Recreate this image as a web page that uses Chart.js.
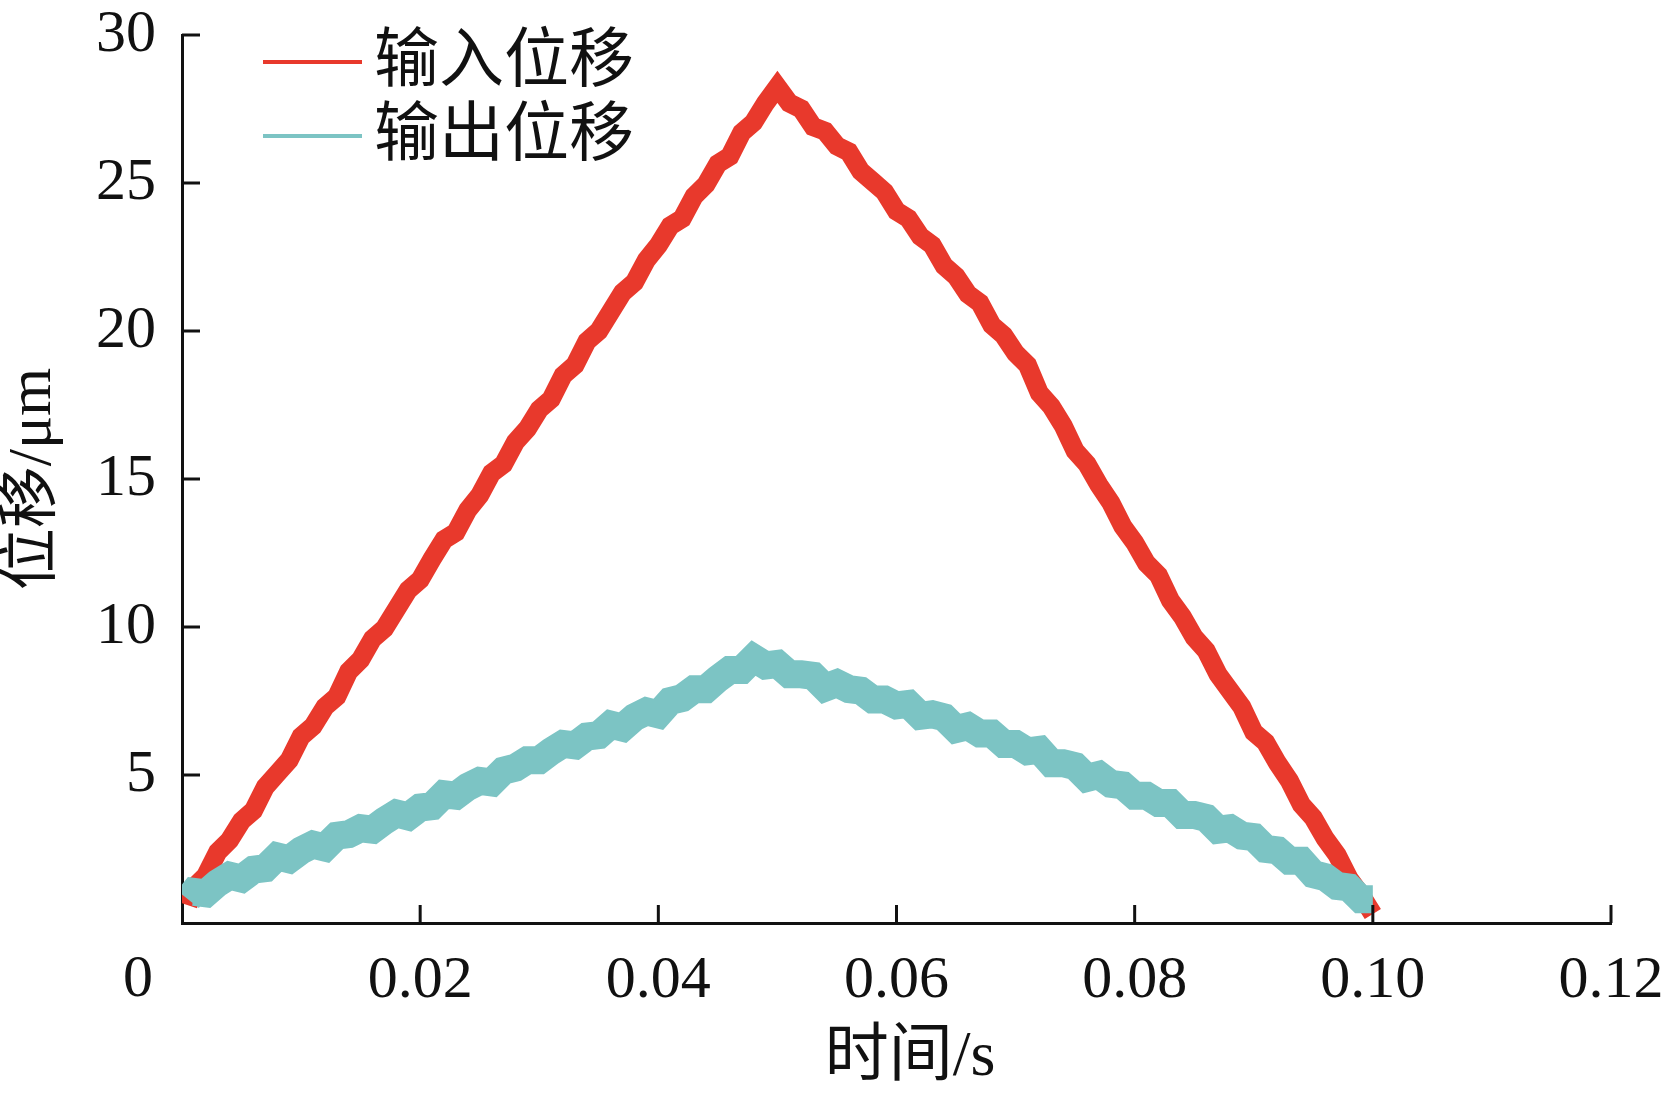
<!DOCTYPE html>
<html>
<head>
<meta charset="utf-8">
<script src="https://cdn.jsdelivr.net/npm/chart.js@4.4.1/dist/chart.umd.min.js"></script>
<style>
  html, body { margin: 0; padding: 0; background: #fff; }
  #wrap { width: 1669px; height: 1104px; }
</style>
</head>
<body>
<div id="wrap"><canvas id="myChart" width="1669" height="1104"></canvas></div>
<script>
// time samples (s)
var times = [0.0005, 0.001, 0.002, 0.003, 0.004, 0.005, 0.006, 0.007, 0.008, 0.009,
  0.010, 0.011, 0.012, 0.013, 0.014, 0.015, 0.016, 0.017, 0.018, 0.019,
  0.020, 0.021, 0.022, 0.023, 0.024, 0.025, 0.026, 0.027, 0.028, 0.029,
  0.030, 0.031, 0.032, 0.033, 0.034, 0.035, 0.036, 0.037, 0.038, 0.039,
  0.040, 0.041, 0.042, 0.043, 0.044, 0.045, 0.046, 0.047, 0.048, 0.049,
  0.050, 0.051, 0.052, 0.053, 0.054, 0.055, 0.056, 0.057, 0.058, 0.059,
  0.060, 0.061, 0.062, 0.063, 0.064, 0.065, 0.066, 0.067, 0.068, 0.069,
  0.070, 0.071, 0.072, 0.073, 0.074, 0.075, 0.076, 0.077, 0.078, 0.079,
  0.080, 0.081, 0.082, 0.083, 0.084, 0.085, 0.086, 0.087, 0.088, 0.089,
  0.090, 0.091, 0.092, 0.093, 0.094, 0.095, 0.096, 0.097, 0.098, 0.099, 0.100];

// 输入位移 (um)
var inputDisp = [0.6, 1.2, 1.6, 2.4, 2.8, 3.45, 3.8, 4.6, 5.05, 5.5,
  6.3, 6.65, 7.3, 7.65, 8.5, 8.9, 9.6, 9.95, 10.6, 11.25,
  11.6, 12.3, 12.95, 13.2, 13.95, 14.45, 15.2, 15.5, 16.25, 16.7,
  17.35, 17.7, 18.5, 18.85, 19.65, 20.0, 20.65, 21.3, 21.65, 22.4,
  22.9, 23.55, 23.8, 24.55, 24.95, 25.65, 25.9, 26.7, 27.05, 27.7,
  28.25, 27.7, 27.5, 26.9, 26.75, 26.25, 26.05, 25.4, 25.05, 24.7,
  24.05, 23.8, 23.2, 22.9, 22.2, 21.85, 21.25, 20.95, 20.2, 19.85,
  19.25, 18.85, 17.9, 17.45, 16.8, 15.95, 15.5, 14.8, 14.2, 13.4,
  12.85, 12.15, 11.75, 10.9, 10.35, 9.65, 9.2, 8.4, 7.85, 7.3,
  6.45, 6.1, 5.4, 4.8, 4.0, 3.55, 2.85, 2.3, 1.5, 0.95, 0.3];

// 输出位移 (um)
var outputDisp = [0.8, 1.05, 1.0, 1.35, 1.6, 1.5, 1.8, 1.85, 2.25, 2.15,
  2.45, 2.65, 2.55, 2.95, 3.0, 3.2, 3.15, 3.45, 3.7, 3.6,
  3.9, 3.95, 4.35, 4.3, 4.6, 4.8, 4.75, 5.15, 5.25, 5.5,
  5.5, 5.8, 6.05, 6.0, 6.3, 6.35, 6.7, 6.6, 6.95, 7.15,
  7.05, 7.5, 7.6, 7.9, 7.9, 8.25, 8.55, 8.55, 8.95, 8.7,
  8.75, 8.4, 8.4, 8.35, 7.95, 8.1, 7.9, 7.85, 7.55, 7.55,
  7.35, 7.4, 7.0, 7.05, 6.95, 6.55, 6.65, 6.4, 6.4, 6.05,
  6.05, 5.8, 5.85, 5.4, 5.4, 5.3, 4.9, 5.0, 4.7, 4.65,
  4.3, 4.3, 4.05, 4.05, 3.65, 3.65, 3.55, 3.15, 3.2, 2.95,
  2.9, 2.5, 2.45, 2.1, 2.1, 1.65, 1.55, 1.25, 1.2, 0.8, 0.8];

var seriesNames = ["输入位移", "输出位移"];
var seriesColors = ["#e8392c", "#7cc4c4"];
var xTitle = "时间/s";
var yTitle = "位移/μm";

var fontFamily = '"Liberation Serif", "Noto Sans CJK SC", serif';

function toPoints(xs, ys) {
  var out = [];
  for (var i = 0; i < xs.length; i++) out.push({ x: xs[i], y: ys[i] });
  return out;
}

// inward tick marks, the lone "0" label, axis titles and the legend
var extras = {
  id: "extras",
  afterDraw: function(chart) {
    var ctx = chart.ctx;
    var xs = chart.scales.x, ys = chart.scales.y;
    var area = chart.chartArea;
    ctx.save();
    ctx.strokeStyle = "#111";
    ctx.lineWidth = 3;
    xs.ticks.forEach(function(t) {
      if (t.value === 0) return;
      var px = xs.getPixelForValue(t.value);
      ctx.beginPath();
      ctx.moveTo(px, area.bottom);
      ctx.lineTo(px, area.bottom - 18);
      ctx.stroke();
    });
    ys.ticks.forEach(function(t) {
      if (t.value === 0) return;
      var py = ys.getPixelForValue(t.value);
      ctx.beginPath();
      ctx.moveTo(area.left, py);
      ctx.lineTo(area.left + 18, py);
      ctx.stroke();
    });

    ctx.fillStyle = "#111";
    ctx.font = "60px " + fontFamily;
    ctx.textAlign = "center";
    ctx.textBaseline = "middle";
    ctx.fillText("0", xs.getPixelForValue(0) - 44, 980);

    // axis titles
    ctx.font = "64px " + fontFamily;
    ctx.fillText(xTitle, 910, 1058);
    ctx.save();
    ctx.translate(34, 479);
    ctx.rotate(-Math.PI / 2);
    ctx.font = "62px " + fontFamily;
    ctx.fillText(yTitle, 0, 0);
    ctx.restore();

    // legend
    ctx.font = "65px " + fontFamily;
    ctx.textAlign = "left";
    var rows = [62, 136];
    for (var i = 0; i < seriesNames.length; i++) {
      ctx.strokeStyle = seriesColors[i];
      ctx.lineWidth = 4;
      ctx.beginPath();
      ctx.moveTo(263, rows[i]);
      ctx.lineTo(362, rows[i]);
      ctx.stroke();
      ctx.fillStyle = "#111";
      ctx.fillText(seriesNames[i], 374, rows[i] + 2);
    }
    ctx.restore();
  }
};

var ctx = document.getElementById("myChart");

var chart = new Chart(ctx, {
  type: "line",
  data: {
    datasets: [
      {
        label: seriesNames[0],
        data: toPoints(times, inputDisp),
        borderColor: seriesColors[0],
        borderWidth: 19,
        pointRadius: 0,
        tension: 0,
        fill: false,
        order: 1
      },
      {
        label: seriesNames[1],
        data: toPoints(times, outputDisp),
        borderColor: seriesColors[1],
        borderWidth: 28,
        pointRadius: 0,
        tension: 0,
        fill: false,
        order: 0
      }
    ]
  },
  options: {
    responsive: false,
    animation: false,
    layout: { padding: { top: 35, right: 58, left: 0, bottom: 0 } },
    plugins: {
      legend: { display: false },
      tooltip: { enabled: false }
    },
    scales: {
      x: {
        type: "linear",
        min: 0,
        max: 0.12,
        grid: { display: false, drawTicks: false },
        border: { display: true, color: "#111", width: 3 },
        ticks: {
          stepSize: 0.02,
          padding: 22,
          color: "#111",
          maxRotation: 0,
          font: { family: fontFamily, size: 60 },
          callback: function(v) { return v === 0 ? "" : v.toFixed(2); }
        },
        afterFit: function(scale) {
          scale.height = 181;
          scale.paddingLeft = 0;
          scale.paddingRight = 0;
        }
      },
      y: {
        min: 0,
        max: 30,
        grid: { display: false, drawTicks: false },
        border: { display: true, color: "#111", width: 3 },
        ticks: {
          stepSize: 5,
          padding: 26,
          color: "#111",
          font: { family: fontFamily, size: 60 },
          callback: function(v) { return v === 0 ? "" : v; }
        },
        afterFit: function(scale) {
          scale.width = 182;
          scale.paddingTop = 0;
          scale.paddingBottom = 0;
        }
      }
    }
  },
  plugins: [extras]
});
</script>
</body>
</html>
